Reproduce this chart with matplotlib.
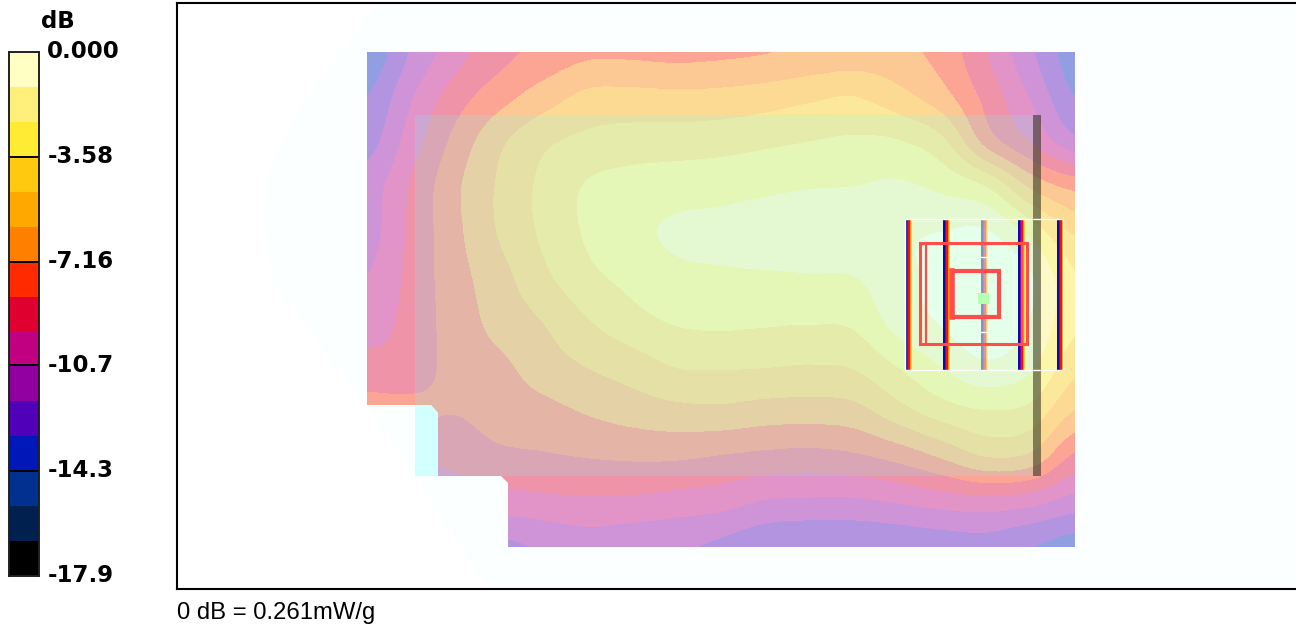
import numpy as np
import matplotlib
matplotlib.use("Agg")
import matplotlib.pyplot as plt
from matplotlib.colors import ListedColormap, BoundaryNorm
from matplotlib.patches import Polygon, Rectangle
from matplotlib.transforms import ScaledTranslation

# ---- data ----
scale_min_db = -17.9
scale_max_db = 0.0
n_bands = 15
band_colors_top_down = ["#ffffc4", "#fff07c", "#ffeb33", "#ffc90f", "#ffa800", "#ff7f00", "#ff2a00",
                        "#e00030", "#c00080", "#9000a0", "#5000b8", "#0018b8", "#003090", "#002050", "#000000"]
tick_values = [0.0, -3.58, -7.16, -10.7, -14.3, -17.9]
tick_labels = ["0.000", "-3.58", "-7.16", "-10.7", "-14.3", "-17.9"]

x_grid = [367, 411, 456, 500, 544, 588, 632, 677, 721, 765, 809, 854, 898, 942, 986, 1031, 1075]
y_grid = [52, 97, 142, 187, 232, 277, 322, 367, 412, 457, 502, 547]
# depth below the peak, in colour-band steps (one step = 17.9 / 15 dB)
row_052 = [11.8, 9.9, 8.4, 7.35, 6.7, 6.2, 6.2, 6.3, 6.2, 6.05, 5.8, 5.6, 5.75, 6.4, 8.0, 9.85, 11.6]
row_097 = [11.0, 9.1, 7.5, 6.4, 5.5, 4.75, 4.7, 4.75, 4.7, 4.5, 4.2, 4.0, 4.65, 5.65, 7.35, 9.1, 11.0]
row_142 = [10.4, 8.5, 6.7, 5.2, 4.2, 3.75, 3.55, 3.5, 3.4, 3.2, 3.0, 2.85, 2.95, 3.8, 6.4, 8.05, 9.7]
row_187 = [9.5, 7.9, 6.2, 4.85, 3.75, 2.9, 2.6, 2.45, 2.35, 2.2, 2.05, 2.0, 1.85, 2.25, 3.05, 5.2, 6.3]
row_232 = [9.4, 7.8, 6.25, 4.9, 3.8, 2.85, 2.25, 1.85, 1.75, 1.55, 1.4, 1.3, 1.15, 1.0, 0.95, 2.4, 4.2]
row_277 = [9.0, 7.7, 6.4, 5.35, 4.2, 3.25, 2.7, 2.25, 2.13, 2.1, 2.05, 2.0, 1.3, 0.7, 0.15, 0.95, 2.9]
row_322 = [8.6, 7.6, 6.55, 5.65, 4.95, 4.05, 3.35, 2.9, 2.8, 2.87, 2.92, 2.8, 1.6, 0.9, 0.25, 1.1, 2.8]
row_367 = [7.6, 7.6, 6.55, 6.2, 5.5, 4.95, 4.5, 3.95, 3.9, 3.95, 4.05, 3.9, 2.95, 1.95, 1.2, 1.85, 3.7]
row_412 = [6.8, 6.8, 6.95, 6.5, 6.3, 5.9, 5.55, 5.3, 5.25, 5.45, 5.5, 5.35, 4.4, 3.5, 3.05, 3.35, 5.05]
row_457 = [8.0, 8.0, 7.7, 7.25, 7.1, 6.95, 6.85, 6.85, 7.05, 7.25, 7.35, 7.15, 6.65, 5.85, 4.95, 5.25, 7.2]
row_502 = [8.5, 8.5, 8.6, 8.45, 8.25, 8.15, 8.2, 8.4, 8.6, 9.05, 9.15, 9.15, 8.9, 8.55, 8.35, 8.65, 9.4]
row_547 = [10.0, 10.0, 10.0, 10.2, 9.85, 9.5, 9.7, 9.85, 10.2, 10.75, 10.95, 10.9, 10.75, 10.55, 10.45, 10.95, 11.45]

# ---- outlines (pixel-based plot coordinates) ----
scan_outline_x = [367, 1075, 1075, 508, 508, 501, 438, 438, 431, 367]
scan_outline_y = [52, 52, 547, 547, 483, 476, 476, 413, 405, 405]
phantom_outline_x = [377, 357, 303, 270, 264, 273, 310, 367, 415, 470, 490, 1296, 1296]
phantom_outline_y = [3, 33, 100, 167, 217, 280, 330, 405, 476, 560, 589, 589, 3]
gap_outline_x = [415, 431, 438, 438, 415]
gap_outline_y = [405, 405, 413, 476, 476]
stripe_bar_x = [905, 943, 981, 1018, 1057]
stripe_bar_alpha = [1.0, 1.0, 0.45, 1.0, 1.0]
stripe_colors = ["#0010b0", "#8a0098", "#f01020", "#ff9000", "#ffd840"]
stripe_widths = [1.5, 1.5, 1.7, 1.2, 0.8]

# ---- figure ----
W, H = 1296, 624
fig = plt.figure(figsize=(W / 100, H / 100), dpi=100, facecolor="white")


def axes_px(x0, y0, x1, y1):
    return fig.add_axes([x0 / W, 1 - y1 / H, (x1 - x0) / W, (y1 - y0) / H])


# main panel
ax = axes_px(177, 3, 1296, 589)
ax.set_facecolor("white")
ax.add_patch(Polygon(np.column_stack([phantom_outline_x, phantom_outline_y]), closed=True,
                     facecolor="#fbffff", edgecolor="none", zorder=1))

steps = np.array([row_052, row_097, row_142, row_187, row_232, row_277,
                  row_322, row_367, row_412, row_457, row_502, row_547])
db_per_step = (scale_max_db - scale_min_db) / n_bands
sar_db = -steps * db_per_step
levels = np.linspace(scale_min_db, scale_max_db, n_bands + 1)
cmap = ListedColormap(band_colors_top_down[::-1])
norm = BoundaryNorm(levels, cmap.N, clip=True)
dx = (x_grid[-1] - x_grid[0]) / (len(x_grid) - 1)
dy = (y_grid[-1] - y_grid[0]) / (len(y_grid) - 1)
im = ax.imshow(sar_db, cmap=cmap, norm=norm, alpha=0.42, interpolation="catrom",
               interpolation_stage="data", origin="upper", aspect="auto",
               extent=(x_grid[0] - dx / 2, x_grid[-1] + dx / 2, y_grid[-1] + dy / 2, y_grid[0] - dy / 2),
               zorder=2)
scan_patch = Polygon(np.column_stack([scan_outline_x, scan_outline_y]), closed=True,
                     facecolor="none", edgecolor="none", transform=ax.transData)
ax.add_patch(scan_patch)
im.set_clip_path(scan_patch)

# translucent body overlay and the light gap patch
ax.add_patch(Rectangle((415, 115), 625, 361, facecolor=(110 / 255, 1.0, 1.0), alpha=0.17,
                       edgecolor="none", clip_path=scan_patch, zorder=3))
ax.add_patch(Polygon(np.column_stack([gap_outline_x, gap_outline_y]), closed=True,
                     facecolor="#d2ffff", edgecolor="none", zorder=3))

# dark vertical bar
ax.add_patch(Rectangle((1033, 115), 8, 361, facecolor="#201800", alpha=0.5, edgecolor="none", zorder=4))

# probe: striped bars
for bx, ba in zip(stripe_bar_x, stripe_bar_alpha):
    left = bx
    for c, w in zip(stripe_colors, stripe_widths):
        ax.add_patch(Rectangle((left, 219), w, 151, facecolor=c, alpha=ba, edgecolor="none", zorder=5))
        left += w
ax.add_patch(Rectangle((905, 219), 158, 151, facecolor="none", edgecolor="white", lw=1.0, zorder=6))

# red rectangles
red = "#ff4d4d"
ax.add_patch(Rectangle((920, 243), 107, 101, facecolor="none", edgecolor=red, lw=2.2, zorder=5))
ax.plot([925.5, 925.5], [243, 344], color=red, lw=1.6, zorder=5)
ax.plot([1022, 1022], [243, 344], color=red, lw=1.6, zorder=5)
ax.add_patch(Rectangle((952, 271), 47, 46, facecolor="none", edgecolor=red, lw=3.0, zorder=5))
ax.plot([952, 952], [271, 317], color=red, lw=4.0, zorder=5)
# small white ticks and green square
ax.plot([981, 987], [257, 257], color="white", lw=1.0, zorder=6)
ax.plot([981, 987], [332, 332], color="white", lw=1.0, zorder=6)
ax.add_patch(Rectangle((978, 293), 11, 11, facecolor="#b4ffb0", edgecolor="none", zorder=7))

ax.set_xlim(177, 1296)
ax.set_ylim(589, 3)
ax.set_xticks([])
ax.set_yticks([])
ax.spines["right"].set_visible(False)
for s in ["left", "top", "bottom"]:
    ax.spines[s].set_linewidth(1.5)
    ax.spines[s].set_color("black")

fig.text(177 / W, 1 - 613 / H, "0 dB = 0.261mW/g", fontsize=17.2, family="Liberation Sans",
         ha="left", va="center", color="black")

# colour bar
cax = axes_px(9, 52, 39, 576)
cax.pcolormesh([0, 1], levels, np.array(levels[:-1] + db_per_step / 2).reshape(-1, 1),
               cmap=cmap, norm=norm, shading="flat")
cax.set_xlim(0, 1)
cax.set_ylim(scale_min_db, scale_max_db)
cax.set_xticks([])
cax.yaxis.tick_right()
cax.set_yticks(tick_values)
cax.set_yticklabels(tick_labels, fontsize=16.5, fontweight="bold", family="DejaVu Sans")
cax.tick_params(axis="y", length=0, pad=6)
shift = ScaledTranslation(0, 2.5 / 100, fig.dpi_scale_trans)
for lab in cax.get_yticklabels():
    lab.set_transform(lab.get_transform() + shift)
cax.hlines(tick_values[1:-1], 0, 1, color="black", lw=1.4)
for s in cax.spines.values():
    s.set_linewidth(1.4)
    s.set_color("#202020")
fig.text(58 / W, 1 - 22 / H, "dB", fontsize=16.5, fontweight="bold", family="DejaVu Sans",
         ha="center", va="center")

fig.savefig("out.png", dpi=100)
